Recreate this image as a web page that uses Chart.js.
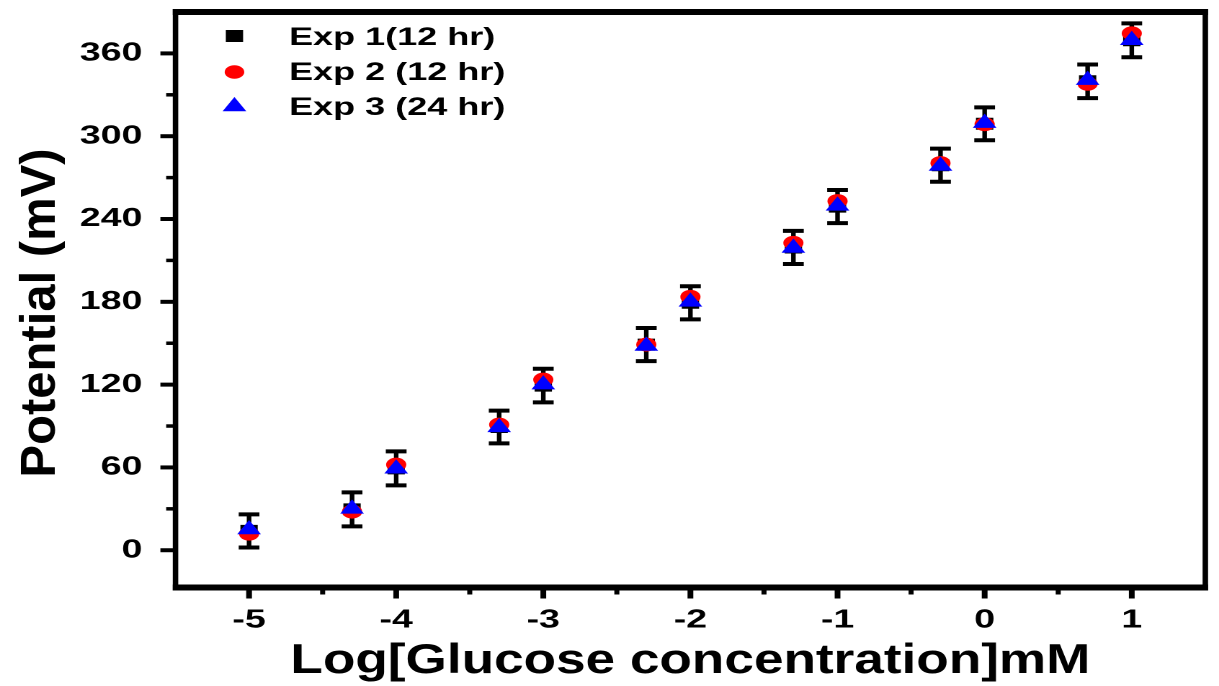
<!DOCTYPE html>
<html>
<head>
<meta charset="utf-8">
<script src="https://cdn.jsdelivr.net/npm/chart.js@4.4.1/dist/chart.umd.min.js"></script>
<style>
  html, body { margin: 0; padding: 0; background: #ffffff; overflow: hidden; }
  #wrap {
    position: absolute; left: 0; top: 0;
    width: 846px; height: 686px;
    transform: scaleX(1.44090); transform-origin: 0 0;
  }
</style>
</head>
<body>
<div id="wrap"><canvas id="c"></canvas></div>
<script>
// ---------- data ----------
const xVals = [-5, -4.3, -4, -3.3, -3, -2.3, -2, -1.3, -1, -0.3, 0, 0.7, 1];
const exp1 = [14, 29.6, 59.3, 89.3, 119.3, 149, 179.3, 219.4, 249, 279, 309, 339.8, 369.5];
const exp1Err = [12, 12.3, 12.3, 11.9, 12.2, 12, 12, 12, 12, 12, 11.9, 12.2, 12.3];
const exp2 = [12, 28, 62, 91, 123.6, 149, 183.6, 222.7, 253, 280.5, 308.7, 338, 374.5];
const exp3 = [15, 30, 59, 89, 120, 148, 180, 219, 249.5, 278.4, 309.5, 340.6, 369.5];

const seriesNames = ['Exp 1(12 hr)', 'Exp 2 (12 hr)', 'Exp 3 (24 hr)'];
const xTickValues = [-5, -4, -3, -2, -1, 0, 1];
const xTickLabels = ['-5', '-4', '-3', '-2', '-1', '0', '1'];
const xMinorValues = [-4.5, -3.5, -2.5, -1.5, -0.5, 0.5];
const yTickValues = [0, 60, 120, 180, 240, 300, 360];
const yTickLabels = ['0', '60', '120', '180', '240', '300', '360'];
const yMinorValues = [30, 90, 150, 210, 270, 330];
const xTitle = 'Log[Glucose concentration]mM';
const yTitle = 'Potential (mV)';

const FONT = '"Liberation Sans", Arial, sans-serif';

function pts(ys) { return xVals.map((x, i) => ({ x: x, y: ys[i] })); }

// ---------- plugins ----------
const errorBars = {
  id: 'errorBars',
  beforeDatasetsDraw(chart) {
    const { ctx, scales: { x, y } } = chart;
    ctx.save();
    ctx.strokeStyle = '#000';
    xVals.forEach((xv, i) => {
      const px = x.getPixelForValue(xv);
      const top = y.getPixelForValue(exp1[i] + exp1Err[i]);
      const bot = y.getPixelForValue(exp1[i] - exp1Err[i]);
      ctx.lineWidth = 3.2;
      ctx.beginPath(); ctx.moveTo(px, top); ctx.lineTo(px, bot); ctx.stroke();
      ctx.lineWidth = 4;
      ctx.beginPath();
      ctx.moveTo(px - 7.2, top); ctx.lineTo(px + 7.2, top);
      ctx.moveTo(px - 7.2, bot); ctx.lineTo(px + 7.2, bot);
      ctx.stroke();
    });
    ctx.restore();
  }
};

const decor = {
  id: 'decor',
  afterDraw(chart) {
    const { ctx, chartArea: a, scales: { x, y } } = chart;
    ctx.save();
    ctx.fillStyle = '#000';
    ctx.strokeStyle = '#000';
    // frame
    const hw = 6, vw = 3.8;
    ctx.fillRect(a.left - vw / 2, a.top - hw / 2, a.right - a.left + vw, hw);
    ctx.fillRect(a.left - vw / 2, a.bottom - hw / 2, a.right - a.left + vw, hw);
    ctx.fillRect(a.left - vw / 2, a.top - hw / 2, vw, a.bottom - a.top + hw);
    ctx.fillRect(a.right - vw / 2, a.top - hw / 2, vw, a.bottom - a.top + hw);
    // y ticks
    ctx.lineWidth = 4;
    yTickValues.forEach(v => {
      const py = y.getPixelForValue(v);
      ctx.beginPath(); ctx.moveTo(a.left - 10.5, py); ctx.lineTo(a.left, py); ctx.stroke();
    });
    ctx.lineWidth = 3.5;
    yMinorValues.forEach(v => {
      const py = y.getPixelForValue(v);
      ctx.beginPath(); ctx.moveTo(a.left - 6.5, py); ctx.lineTo(a.left, py); ctx.stroke();
    });
    // x ticks
    ctx.lineWidth = 4;
    xTickValues.forEach(v => {
      const px = x.getPixelForValue(v);
      ctx.beginPath(); ctx.moveTo(px, a.bottom); ctx.lineTo(px, a.bottom + 11); ctx.stroke();
    });
    ctx.lineWidth = 3.5;
    xMinorValues.forEach(v => {
      const px = x.getPixelForValue(v);
      ctx.beginPath(); ctx.moveTo(px, a.bottom); ctx.lineTo(px, a.bottom + 7); ctx.stroke();
    });
    // x title
    ctx.font = 'bold 42px ' + FONT;
    ctx.textAlign = 'center';
    ctx.textBaseline = 'alphabetic';
    ctx.save();
    ctx.translate((a.left + a.right) / 2, 673);
    ctx.scale(0.878, 1);
    ctx.fillText(xTitle, 0, 0);
    ctx.restore();
    // y title
    ctx.save();
    ctx.font = 'bold 34px ' + FONT;
    ctx.translate(38, 313);
    ctx.rotate(-Math.PI / 2);
    ctx.scale(1.44, 1);
    ctx.fillText(yTitle, 0, 0);
    ctx.restore();
    // legend
    const mx = 162.7, tx = 200.6;
    ctx.textAlign = 'left';
    ctx.font = 'bold 25px ' + FONT;
    ctx.fillStyle = '#000';
    ctx.fillRect(mx - 6, 36 - 6, 12, 12);
    ctx.fillText(seriesNames[0], tx, 45);
    ctx.fillStyle = '#ff0000';
    ctx.beginPath(); ctx.arc(mx, 72, 6.8, 0, Math.PI * 2); ctx.fill();
    ctx.fillStyle = '#000';
    ctx.fillText(seriesNames[1], tx, 80);
    ctx.fillStyle = '#0000ff';
    const r = 9.5, cy = 106.5;
    ctx.beginPath();
    ctx.moveTo(mx, cy - r);
    ctx.lineTo(mx + r * Math.sin(2 * Math.PI / 3), cy + r / 2);
    ctx.lineTo(mx - r * Math.sin(2 * Math.PI / 3), cy + r / 2);
    ctx.closePath(); ctx.fill();
    ctx.fillStyle = '#000';
    ctx.fillText(seriesNames[2], tx, 115);
    ctx.restore();
  }
};

// ---------- chart ----------
new Chart(document.getElementById('c'), {
  type: 'scatter',
  data: {
    datasets: [
      { label: seriesNames[0], data: pts(exp1), pointStyle: 'rect', pointRadius: 8.5,
        backgroundColor: '#000000', borderColor: '#000000', borderWidth: 0, order: 2 },
      { label: seriesNames[1], data: pts(exp2), pointStyle: 'circle', pointRadius: 7,
        backgroundColor: '#ff0000', borderColor: '#ff0000', borderWidth: 0, order: 1 },
      { label: seriesNames[2], data: pts(exp3), pointStyle: 'triangle', pointRadius: 9.5,
        backgroundColor: '#0000ff', borderColor: '#0000ff', borderWidth: 0, order: 0 }
    ]
  },
  options: {
    responsive: true,
    maintainAspectRatio: false,
    devicePixelRatio: 2,
    animation: false,
    layout: { padding: { left: 0, right: 4.2, top: 12, bottom: 0 } },
    plugins: { legend: { display: false }, tooltip: { enabled: false } },
    scales: {
      x: {
        type: 'linear', position: 'bottom', min: -5.5, max: 1.5,
        grid: { display: false, drawTicks: false },
        border: { display: false },
        afterBuildTicks: s => { s.ticks = xTickValues.map(v => ({ value: v })); },
        afterFit: s => { s.height = 98.5; s.paddingLeft = 0; s.paddingRight = 0; s.paddingTop = 0; s.paddingBottom = 0; },
        ticks: {
          autoSkip: false, maxRotation: 0, padding: 17, color: '#000',
          font: { family: FONT, size: 26, weight: 'bold' },
          callback: v => { const i = xTickValues.indexOf(v); return i >= 0 ? xTickLabels[i] : ''; }
        }
      },
      y: {
        type: 'linear', position: 'left', min: -27, max: 390,
        grid: { display: false, drawTicks: false },
        border: { display: false },
        afterBuildTicks: s => { s.ticks = yTickValues.map(v => ({ value: v })); },
        afterFit: s => { s.width = 121.8; s.paddingTop = 0; s.paddingBottom = 0; s.paddingLeft = 0; s.paddingRight = 0; },
        ticks: {
          autoSkip: false, padding: 23, color: '#000',
          font: { family: FONT, size: 26, weight: 'bold' },
          callback: v => { const i = yTickValues.indexOf(v); return i >= 0 ? yTickLabels[i] : ''; }
        }
      }
    }
  },
  plugins: [errorBars, decor]
});
</script>
</body>
</html>
